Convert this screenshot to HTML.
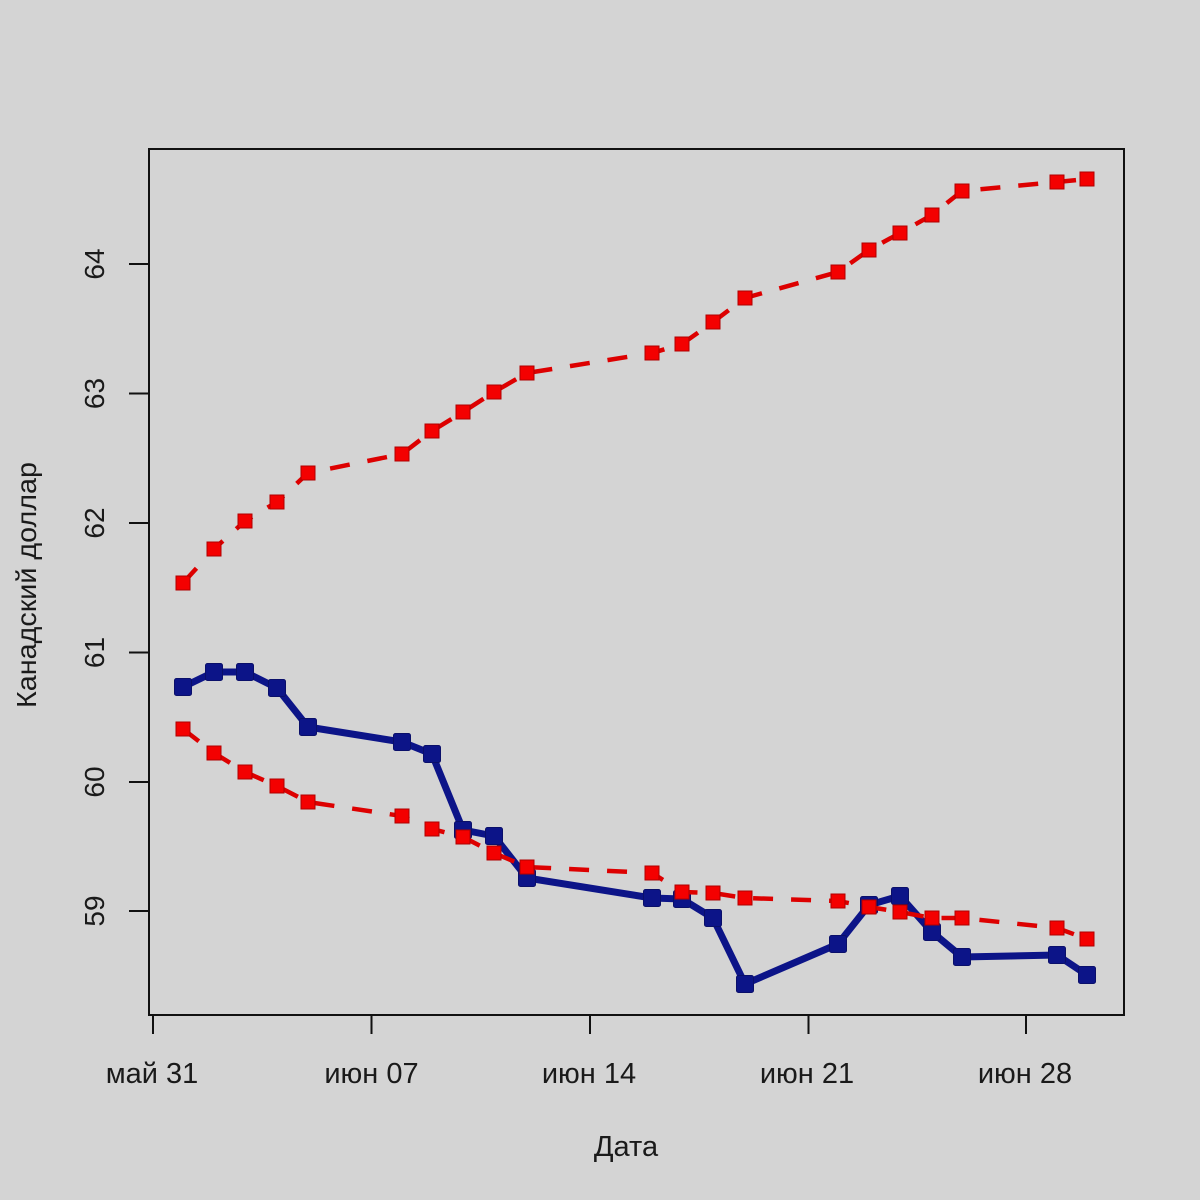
<!DOCTYPE html>
<html>
<head>
<meta charset="utf-8">
<style>
  html,body{margin:0;padding:0;background:#d4d4d4;}
  svg{display:block;}
  text{font-family:"Liberation Sans","DejaVu Sans",sans-serif;fill:#1a1a1a;}
</style>
</head>
<body>
<svg width="1200" height="1200" viewBox="0 0 1200 1200" xmlns="http://www.w3.org/2000/svg">
  <defs>
    <marker id="mb" markerUnits="userSpaceOnUse" markerWidth="20" markerHeight="20" refX="10" refY="10" orient="0">
      <rect x="1.5" y="1.5" width="17" height="17" rx="2" fill="#0c1488" stroke="#0a0f6a" stroke-width="1"/>
    </marker>
    <marker id="mr" markerUnits="userSpaceOnUse" markerWidth="16" markerHeight="16" refX="8" refY="8" orient="0">
      <rect x="1" y="1" width="14" height="14" fill="#f40000" stroke="#b00000" stroke-width="1"/>
    </marker>
  </defs>
  <rect x="0" y="0" width="1200" height="1200" fill="#d4d4d4"/>

  <polyline fill="none" stroke="#0c1488" stroke-width="7" stroke-linejoin="round"
    marker-start="url(#mb)" marker-mid="url(#mb)" marker-end="url(#mb)"
    points="183,687 214,672 245,672 277,688 308,727 402,742 432,754 463,830 494,836 527,878 652,898 682,899 713,918 745,984 838,944 869,905 900,896 932,932 962,957 1057,955 1087,975"/>

  <polyline fill="none" stroke="#dd0000" stroke-width="4.5" stroke-dasharray="20 18"
    marker-start="url(#mr)" marker-mid="url(#mr)" marker-end="url(#mr)"
    points="183,583 214,549 245,521 277,502 308,473 402,454 432,431 463,412 494,392 527,373 652,353 682,344 713,322 745,298 838,272 869,250 900,233 932,215 962,191 1057,182 1087,179"/>

  <polyline fill="none" stroke="#dd0000" stroke-width="4.5" stroke-dasharray="20 18"
    marker-start="url(#mr)" marker-mid="url(#mr)" marker-end="url(#mr)"
    points="183,729 214,753 245,772 277,786 308,802 402,816 432,829 463,837 494,853 527,867 652,873 682,892 713,893 745,898 838,901 869,907 900,912 932,918 962,918 1057,928 1087,939"/>

  <rect x="149" y="149" width="975" height="866" fill="none" stroke="#111" stroke-width="2"/>

  <path stroke="#111" stroke-width="2" fill="none"
    d="M129 264H149 M129 393.5H149 M129 523H149 M129 652.5H149 M129 782H149 M129 911H149
       M153 1015V1034 M371.5 1015V1034 M590 1015V1034 M808.5 1015V1034 M1026 1015V1034"/>

  <g font-size="28" text-anchor="middle">
    <text transform="translate(104,264) rotate(-90)">64</text>
    <text transform="translate(104,393.5) rotate(-90)">63</text>
    <text transform="translate(104,523) rotate(-90)">62</text>
    <text transform="translate(104,652.5) rotate(-90)">61</text>
    <text transform="translate(104,782) rotate(-90)">60</text>
    <text transform="translate(104,911) rotate(-90)">59</text>
  </g>

  <g font-size="29" text-anchor="middle">
    <text x="152" y="1083">май 31</text>
    <text x="371.5" y="1083">июн 07</text>
    <text x="589" y="1083">июн 14</text>
    <text x="807" y="1083">июн 21</text>
    <text x="1025" y="1083">июн 28</text>
  </g>

  <text x="626" y="1156" font-size="29" text-anchor="middle">Дата</text>
  <text transform="translate(36,585) rotate(-90)" font-size="28" text-anchor="middle" textLength="246" lengthAdjust="spacingAndGlyphs">Канадский доллар</text>
</svg>
</body>
</html>
